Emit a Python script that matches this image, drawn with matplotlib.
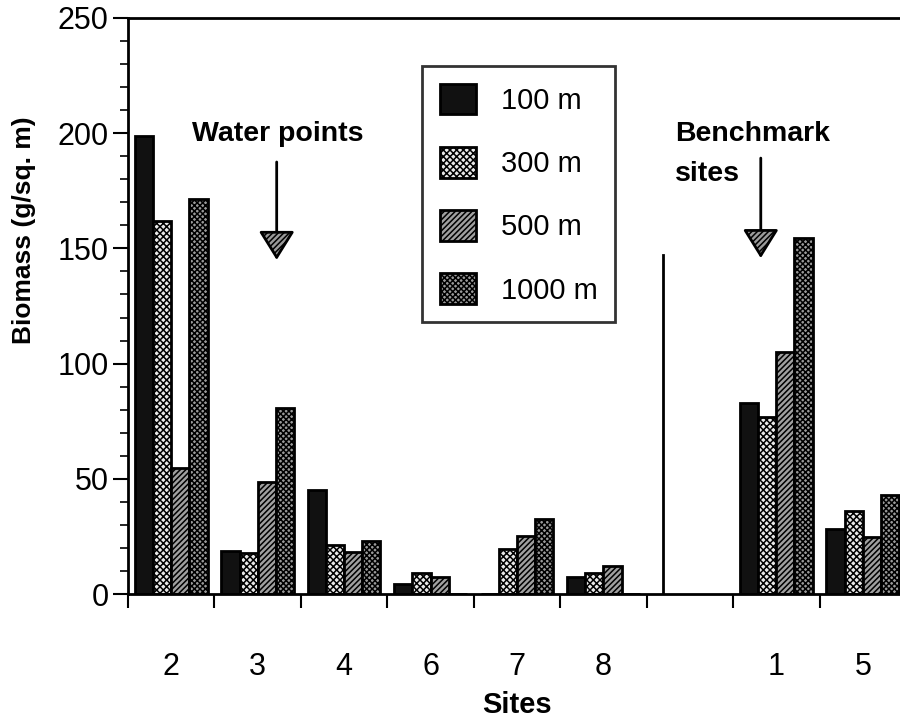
import matplotlib
matplotlib.use("Agg")
import matplotlib.pyplot as plt
import numpy as np

plt.rcParams['font.family'] = ['Liberation Sans', 'DejaVu Sans']
plt.rcParams['hatch.linewidth'] = 1.1

sites = ["2", "3", "4", "6", "7", "8", "", "1", "5"]
labels = ["100 m", "300 m", "500 m", "1000 m"]
b100 = [199, 18.8, 45.1, 4.3, 0, 7.5, np.nan, 82.8, 28.1]
b300 = [162, 17.7, 21.3, 9.0, 19.4, 9.3, np.nan, 77.0, 36.2]
b500 = [54.6, 48.8, 18.1, 7.2, 25.3, 12.3, np.nan, 105.2, 24.9]
b1000 = [171.4, 80.7, 23.1, 0, 32.4, 0, np.nan, 154.4, 43.0]

faces = ["#111111", "#e8e8e8", "#a0a0a0", "#9a9a9a"]
hatches = [None, "xxxxx", "//////", "xxxxxx"]

fig = plt.figure(figsize=(9, 7.24), dpi=100)
ax = fig.add_axes([128 / 900, 1 - 594 / 724, 778 / 900, 576 / 724])

x = np.arange(len(sites))
w = 0.21
handles = []
for k, vals in enumerate([b100, b300, b500, b1000]):
    h = ax.bar(x + (k - 1.5) * w, vals, w, color=faces[k], edgecolor="black",
               linewidth=2, hatch=hatches[k], label=labels[k])
    handles.append(h)

ax.set_xlim(-0.5, len(sites) - 0.5)
ax.set_ylim(0, 250)

# separator between water points and benchmark sites
ax.plot([5.69, 5.69], [0, 147], color="black", lw=2)

# annotations
arrow = dict(arrowstyle="-|>,head_length=0.45,head_width=0.28", mutation_scale=40,
             lw=2, ec="black", fc="#9a9a9a", hatch="//////", shrinkA=0, shrinkB=0)
ax.annotate("", xy=(1.22, 145), xytext=(1.22, 187.5), arrowprops=arrow)
ax.annotate("", xy=(6.82, 145.8), xytext=(6.82, 189.2), arrowprops=arrow)
ax.text(1.23, 199.5, "Water points", ha="center", va="center", fontsize=20.5, fontweight="bold")
ax.text(5.83, 191, "Benchmark\nsites", ha="left", va="center", fontsize=20.5,
        fontweight="bold", linespacing=1.7)

# axes styling
for s in ["left", "bottom", "top"]:
    ax.spines[s].set_linewidth(2)
ax.spines["right"].set_visible(False)

ax.set_yticks(np.arange(0, 251, 50))
ax.set_yticks(np.arange(0, 251, 10), minor=True)
ax.tick_params(axis="y", which="major", length=11, width=1.5, pad=3, labelsize=22)
ax.tick_params(axis="y", which="minor", length=6, width=1.2)

ax.set_xticks(np.arange(len(sites) + 1) - 0.5)
ax.set_xticklabels([])
ax.set_xticks(x, minor=True, labels=sites)
ax.tick_params(axis="x", which="major", length=10, width=1.5)
ax.tick_params(axis="x", which="minor", length=0, pad=42, labelsize=22)

ax.set_ylabel("Biomass (g/sq. m)", fontsize=19, fontweight="bold")
ax.yaxis.set_label_coords(-0.118, 0.632)
ax.set_xlabel("Sites", fontsize=21, fontweight="bold", labelpad=6)

leg = fig.legend(handles=handles, loc="upper left", bbox_to_anchor=(422 / 900, 1 - 66 / 724),
                 fontsize=21, frameon=True, fancybox=False, edgecolor="black",
                 handlelength=1.25, handleheight=1.25, labelspacing=1.1,
                 handletextpad=0.85, borderpad=0.6, borderaxespad=0)
leg.get_frame().set_linewidth(2)

fig.savefig("out.png", dpi=100)
